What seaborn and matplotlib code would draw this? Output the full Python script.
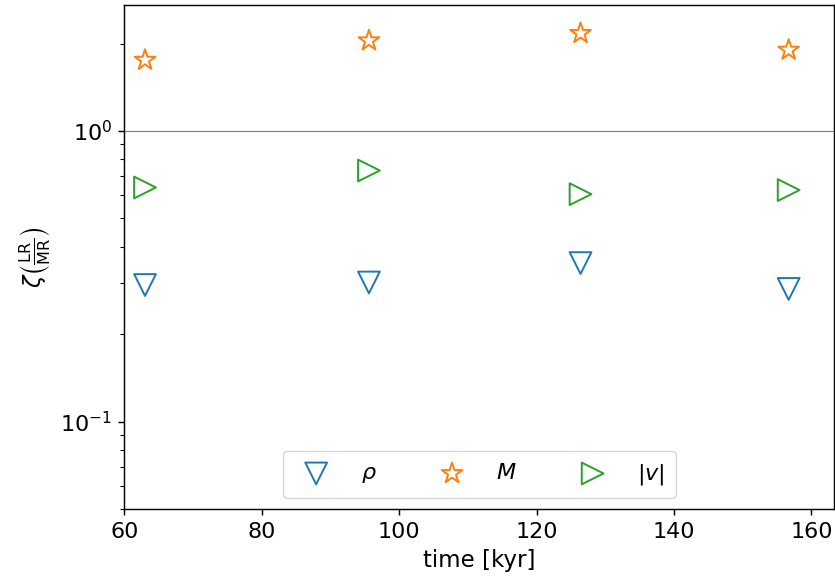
import numpy as np
import pandas as pd
import seaborn as sns
import matplotlib
matplotlib.use("Agg")
import matplotlib.pyplot as plt

# dados
tempo = [63.0, 95.6, 126.4, 156.7]
zeta_rho = [0.295, 0.301, 0.351, 0.286]
zeta_M = [1.753, 2.045, 2.168, 1.899]
zeta_v = [0.639, 0.731, 0.606, 0.626]

series = [
    (r'$\rho$', zeta_rho, 'v', '#1f77b4'),
    (r'$M$', zeta_M, '*', '#ff7f0e'),
    (r'$|v|$', zeta_v, '>', '#2ca02c'),
]

# figura original parece ter sido salva a ~130 dpi; escala os tamanhos padrão
k = 1.3
plt.rcParams.update({
    'axes.linewidth': 0.8 * k,
    'xtick.major.size': 3.5 * k, 'ytick.major.size': 3.5 * k,
    'ytick.minor.size': 2.0 * k,
    'xtick.major.width': 0.8 * k, 'ytick.major.width': 0.8 * k,
    'ytick.minor.width': 0.6 * k,
    'xtick.major.pad': 3.5 * k, 'ytick.major.pad': 3.5 * k,
    'legend.frameon': True,
})

fig = plt.figure(figsize=(8.35, 5.78), dpi=100)
ax = fig.add_axes([0.149, 0.1194, 0.8498, 0.8719])

for rotulo, valores, marcador, cor in series:
    df = pd.DataFrame({'tempo': tempo, 'zeta': valores})
    sns.scatterplot(data=df, x='tempo', y='zeta', ax=ax, marker=marcador,
                    color=cor, facecolor='none', edgecolor=cor,
                    s=245, linewidth=1.4, label=rotulo)

ax.axhline(1.0, color='grey', lw=0.8, zorder=0)
ax.set_yscale('log')
ax.set_ylim(0.05, 2.713)
ax.set_xlim(60, 163.3)
ax.set_xticks([60, 80, 100, 120, 140, 160])

ax.set_xlabel('time [kyr]', fontsize=16.5, labelpad=4.0 * k)
ax.set_ylabel(r'$\zeta\left(\frac{\mathrm{LR}}{\mathrm{MR}}\right)$', fontsize=16.5,
              labelpad=4.0 * k)
ax.tick_params(axis='both', which='major', labelsize=16)

ax.legend(loc='lower center', ncol=3, fontsize=16, handletextpad=1.0,
          columnspacing=2.4, borderpad=0.5)

fig.savefig('out.png', dpi=100)
